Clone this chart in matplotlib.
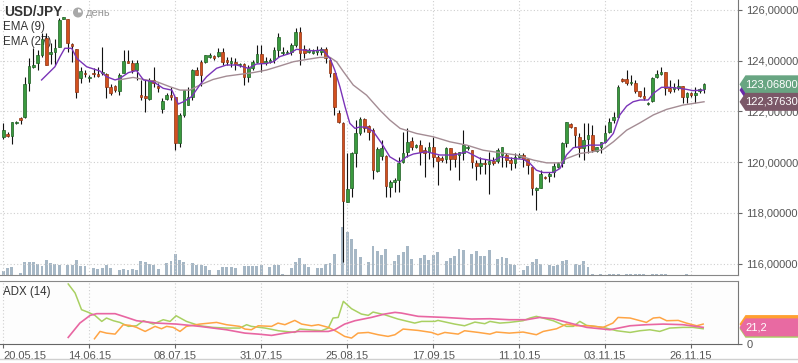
import matplotlib
matplotlib.use('Agg')
import matplotlib.pyplot as plt
from matplotlib.patches import Polygon, Circle, Wedge
from matplotlib.lines import Line2D
from matplotlib.ticker import FuncFormatter

plt.rcParams['font.family'] = ['Liberation Sans', 'DejaVu Sans']

# daily USD/JPY candles, 20.05.15 .. 01.12.15 (bar index 0..163)
opens = [121.00, 121.09, 121.04, 121.53, 121.75, 121.76, 123.13, 123.76, 123.89, 124.22,
         124.88, 124.26, 124.36, 124.55, 125.66, 125.63, 124.66, 124.45, 123.33, 123.53,
         123.30, 123.53, 123.47, 123.50, 123.47, 122.95, 123.00, 122.80, 123.53, 123.99,
         123.92, 123.63, 122.64, 122.62, 122.49, 123.24, 123.00, 122.08, 122.47, 122.64,
         122.58, 120.74, 121.86, 122.25, 122.58, 123.63, 123.96, 123.96, 124.16, 124.18,
         124.20, 124.33, 124.03, 123.92, 123.96, 123.82, 123.86, 123.37, 123.70, 123.96,
         124.26, 123.92, 123.96, 124.03, 124.42, 124.29, 124.29, 124.36, 124.62, 125.14,
         124.45, 124.36, 124.32, 124.36, 124.36, 124.45, 124.03, 123.50, 121.92, 121.55,
         118.43, 118.96, 120.34, 121.13, 121.70, 121.42, 121.26, 119.64, 120.24, 120.24,
         119.03, 119.22, 119.29, 120.01, 120.41, 120.83, 120.61, 120.67, 120.47, 120.41,
         120.61, 120.21, 120.18, 120.11, 120.54, 120.34, 120.28, 120.37, 120.54, 120.47,
         119.97, 119.86, 119.97, 119.92, 120.05, 120.05, 120.28, 120.28, 120.08, 119.97,
         120.21, 120.28, 120.11, 119.82, 118.89, 118.96, 119.42, 119.45, 119.62, 119.82,
         119.95, 120.74, 121.49, 121.39, 121.00, 120.54, 120.93, 121.07, 120.45, 120.61,
         120.80, 121.20, 121.66, 121.76, 123.28, 123.26, 123.11, 123.11, 122.82, 122.61,
         122.29, 122.42, 123.34, 123.47, 123.57, 122.91, 122.87, 122.92, 123.00, 122.58,
         122.71, 122.64, 122.80, 122.87]
highs = [121.53, 121.20, 121.59, 121.62, 121.79, 123.34, 124.09, 124.49, 124.42, 125.08,
         125.08, 124.68, 124.84, 125.67, 125.74, 125.66, 124.68, 124.47, 123.76, 123.63,
         123.43, 123.70, 123.76, 124.55, 123.50, 123.08, 123.04, 123.53, 124.42, 124.42,
         124.03, 124.03, 123.24, 123.24, 123.30, 123.76, 123.11, 122.51, 122.71, 122.97,
         122.58, 121.92, 122.84, 122.97, 123.66, 123.76, 124.03, 124.22, 124.29, 124.22,
         124.49, 124.49, 124.16, 124.16, 124.09, 123.89, 123.89, 123.83, 124.03, 124.62,
         124.62, 124.16, 124.09, 124.55, 125.08, 124.55, 124.42, 124.68, 125.28, 125.34,
         124.62, 124.50, 124.45, 124.59, 124.55, 124.55, 124.16, 123.53, 122.05, 121.59,
         120.34, 120.41, 121.66, 121.79, 121.72, 121.46, 121.33, 120.61, 120.87, 120.28,
         119.29, 119.36, 120.21, 121.20, 121.33, 121.00, 120.72, 120.87, 120.61, 120.80,
         121.00, 120.28, 120.24, 120.61, 120.54, 120.41, 120.41, 121.26, 120.67, 120.47,
         120.08, 120.21, 120.11, 120.41, 120.21, 120.54, 120.61, 120.34, 120.21, 120.34,
         120.34, 120.34, 120.14, 119.82, 119.03, 119.68, 119.45, 119.62, 119.95, 120.00,
         120.80, 121.59, 121.53, 121.39, 121.13, 121.53, 121.53, 121.46, 120.61, 120.80,
         121.46, 121.72, 121.99, 123.04, 123.30, 123.63, 123.43, 123.24, 122.82, 122.97,
         122.38, 123.37, 123.63, 123.76, 123.57, 123.24, 123.11, 123.28, 123.00, 122.78,
         122.78, 122.97, 122.91, 123.13]
lows = [120.93, 121.00, 120.70, 121.50, 121.50, 121.72, 122.82, 123.70, 123.63, 124.16,
        123.83, 123.87, 123.83, 124.55, 125.63, 124.36, 123.96, 122.51, 123.11, 123.37,
        123.17, 123.37, 123.37, 123.43, 122.51, 122.64, 122.78, 122.64, 123.50, 123.89,
        123.50, 123.24, 122.45, 121.99, 122.45, 122.97, 122.78, 121.92, 122.45, 122.45,
        120.47, 120.61, 121.76, 122.25, 122.45, 123.43, 123.00, 123.89, 124.09, 124.03,
        124.16, 123.83, 123.83, 123.76, 123.63, 123.76, 123.04, 123.17, 123.63, 123.89,
        123.57, 123.83, 123.92, 123.89, 124.16, 124.22, 124.26, 124.22, 124.55, 123.83,
        124.09, 124.30, 124.28, 124.22, 124.22, 123.89, 123.37, 121.86, 121.53, 116.07,
        118.43, 118.63, 119.82, 121.07, 121.20, 120.87, 119.32, 119.62, 120.08, 118.63,
        118.63, 118.83, 118.83, 119.95, 120.21, 120.47, 120.55, 119.88, 119.42, 120.14,
        119.82, 119.09, 120.01, 119.95, 119.68, 119.82, 119.29, 120.08, 120.47, 119.75,
        119.29, 119.55, 119.55, 118.76, 119.88, 119.95, 119.82, 119.82, 119.68, 119.75,
        120.18, 119.82, 119.55, 118.70, 118.11, 118.96, 119.32, 119.22, 119.42, 119.78,
        119.82, 120.61, 121.33, 120.61, 120.21, 120.08, 120.34, 120.41, 120.41, 120.34,
        120.74, 121.13, 121.53, 121.72, 123.17, 123.04, 123.04, 122.71, 122.58, 122.45,
        122.26, 122.38, 123.30, 123.43, 122.64, 122.74, 122.78, 122.84, 122.32, 122.32,
        122.58, 122.32, 122.71, 122.71]
closes = [121.26, 121.03, 121.57, 121.59, 121.66, 123.08, 123.79, 123.83, 124.22, 124.84,
          123.83, 124.36, 124.49, 125.61, 125.71, 124.71, 124.58, 122.78, 123.59, 123.46,
          123.37, 123.47, 123.41, 123.57, 122.97, 122.74, 122.84, 123.43, 123.99, 123.92,
          123.63, 123.92, 122.58, 122.51, 123.24, 123.13, 122.91, 122.42, 122.64, 122.58,
          120.74, 121.86, 122.84, 122.58, 123.63, 123.43, 123.43, 124.22, 124.22, 124.09,
          124.36, 123.96, 123.96, 124.00, 123.87, 123.87, 123.34, 123.70, 123.96, 124.26,
          123.89, 124.00, 124.03, 124.42, 124.95, 124.36, 124.36, 124.62, 125.14, 124.29,
          124.29, 124.42, 124.38, 124.42, 124.45, 124.09, 123.50, 122.16, 121.59, 118.47,
          118.93, 120.34, 121.13, 121.70, 121.33, 121.20, 119.68, 120.51, 120.54, 119.07,
          119.22, 119.29, 119.95, 120.34, 120.80, 120.61, 120.67, 120.41, 120.37, 120.61,
          120.21, 120.05, 120.08, 120.54, 120.11, 120.11, 120.41, 120.67, 120.61, 120.01,
          119.86, 119.97, 119.92, 120.05, 119.97, 120.47, 120.61, 120.08, 119.97, 120.21,
          120.28, 120.14, 119.88, 118.96, 118.96, 119.55, 119.36, 119.55, 119.86, 119.95,
          120.74, 121.57, 121.37, 121.07, 120.57, 120.89, 121.07, 120.47, 120.58, 120.80,
          121.13, 121.57, 121.76, 122.95, 123.21, 123.13, 123.17, 122.82, 122.61, 122.51,
          122.34, 123.30, 123.47, 123.57, 122.91, 122.82, 122.95, 123.00, 122.58, 122.71,
          122.64, 122.71, 122.87, 123.07]
volume = [13, 23, 26, 0, 8, 41, 41, 41, 35, 27, 47, 38, 35, 32, 0, 30, 32, 47, 27, 27,
          0, 23, 18, 21, 32, 21, 0, 17, 20, 17, 20, 17, 44, 41, 35, 30, 20, 0, 38, 44,
          65, 47, 41, 0, 38, 32, 32, 27, 17, 0, 17, 26, 26, 26, 23, 0, 29, 27, 27, 29,
          32, 0, 26, 30, 32, 3, 0, 23, 41, 53, 35, 26, 0, 23, 23, 35, 38, 65, 0, 146,
          131, 110, 80, 54, 0, 41, 89, 74, 62, 80, 0, 44, 62, 71, 89, 50, 0, 53, 62, 47,
          62, 71, 0, 44, 53, 59, 80, 77, 0, 65, 74, 59, 59, 77, 2, 50, 56, 53, 35, 32,
          2, 17, 29, 41, 50, 35, 0, 32, 29, 32, 44, 47, 0, 35, 32, 44, 26, 5, 0, 5,
          2, 5, 5, 5, 0, 5, 5, 5, 5, 5, 0, 5, 5, 5, 5, 2, 0, 2, 2, 5,
          2, 2, 0, 0]

date_idx = [0, 20, 40, 60, 80, 100, 120, 140, 160]
date_labels = ['20.05.15', '14.06.15', '08.07.15', '31.07.15', '25.08.15',
               '17.09.15', '11.10.15', '03.11.15', '26.11.15']
price_ticks = [116, 118, 120, 122, 124, 126]

# indicator lines (bar index, value)
ema9_x = [8.9, 12.0, 13.2, 14.3, 15.9, 17.1, 19.4, 22.5, 24.0, 26.0, 27.1, 29.1, 31.0, 32.6, 34.9,
          37.2, 39.2, 40.7, 41.9, 43.8, 45.7, 47.3, 49.6, 51.9, 54.3, 55.8, 57.0, 58.9, 61.2, 62.8,
          64.3, 66.7, 68.2, 69.8, 72.1, 74.4, 76.0, 77.1, 78.3, 79.5, 80.6, 81.8, 83.0, 84.5, 86.1,
          88.0, 89.9, 92.1, 93.8, 95.4, 98.4, 101.5, 104.8, 107.8, 110.9, 114.0, 115.6, 118.7, 121.0,
          122.5, 124.0, 125.6, 127.9, 129.5, 131.0, 132.6, 134.5, 136.4, 138.8, 140.3, 141.9, 143.4,
          145.0, 146.5, 148.1, 150.0, 151.2, 153.1, 155.0, 157.4, 158.9, 160.4, 163.0]
ema9_y = [123.24, 123.76, 124.16, 124.49, 124.49, 124.09, 123.76, 123.59, 123.37, 123.24, 123.30,
          123.53, 123.61, 123.24, 123.17, 122.91, 122.84, 122.29, 122.38, 122.58, 123.04, 123.37,
          123.70, 123.83, 123.83, 123.76, 123.70, 123.87, 123.89, 123.96, 124.16, 124.29, 124.45,
          124.42, 124.39, 124.42, 124.09, 123.63, 122.97, 122.18, 121.53, 121.33, 121.39, 121.37,
          121.20, 120.74, 120.21, 119.99, 120.21, 120.32, 120.41, 120.28, 120.28, 120.41, 120.14,
          120.05, 120.21, 120.14, 120.11, 119.95, 119.68, 119.59, 119.59, 119.75, 120.28, 120.57,
          120.61, 120.67, 120.67, 120.80, 121.13, 121.86, 122.21, 122.38, 122.45, 122.45, 122.71,
          122.95, 122.95, 122.91, 122.87, 122.82, 122.84]
ema27_x = [26.8, 30.2, 32.6, 35.7, 38.8, 41.1, 43.4, 45.7, 48.8, 51.9, 55.0, 58.1, 61.2, 64.3, 67.5,
           70.6, 73.6, 76.0, 77.5, 79.1, 81.4, 84.5, 87.6, 89.9, 92.3, 96.1, 100.0, 103.9, 107.8,
           111.6, 115.5, 119.4, 123.3, 126.4, 129.5, 131.0, 134.1, 137.2, 139.5, 141.9, 145.0,
           148.1, 151.2, 154.3, 158.1, 163.0]
ema27_y = [123.24, 123.34, 123.26, 123.17, 122.97, 122.84, 122.84, 123.04, 123.26, 123.39, 123.46,
           123.53, 123.63, 123.79, 123.96, 124.05, 124.13, 124.13, 123.96, 123.57, 123.04, 122.64,
           122.05, 121.66, 121.33, 121.13, 121.00, 120.80, 120.67, 120.47, 120.37, 120.28, 120.08,
           119.97, 119.97, 120.14, 120.34, 120.41, 120.50, 120.80, 121.26, 121.55, 121.86, 122.08,
           122.25, 122.38]

adx_x = [15.1, 17.8, 20.2, 21.7, 26.0, 28.7, 31.0, 35.7, 40.3, 45.7, 51.9, 56.2, 59.3, 62.4, 65.5,
         68.6, 75.6, 77.1, 79.4, 81.8, 85.6, 88.7, 91.1, 92.6, 96.5, 102.7, 108.9, 113.2, 117.7,
         121.7, 124.8, 127.9, 131.8, 135.7, 139.5, 141.1, 145.8, 149.6, 153.5, 158.1, 162.8]
adx_y = [8.1, 26.8, 36.9, 39.1, 39.1, 34.2, 29.9, 26.8, 25.5, 22.5, 18.1, 13.7, 12.4, 10.7, 13.7,
         15.9, 15.9, 18.1, 25.5, 29.9, 34.2, 38.6, 40.8, 39.9, 35.6, 34.2, 32.1, 32.5, 31.2,
         31.2, 34.2, 32.5, 26.8, 21.2, 19.0, 18.1, 23.3, 24.7, 25.5, 24.7, 21.2]
pdi_x = [15.1, 16.7, 18.2, 19.8, 21.3, 22.9, 24.0, 25.6, 27.1, 29.1, 31.0, 32.6, 34.9, 37.2, 38.8,
         40.2, 42.6, 45.7, 48.8, 51.9, 55.0, 56.6, 57.7, 60.9, 64.0, 67.8, 69.0, 74.0, 75.6, 76.7,
         77.9, 79.1, 81.0, 83.3, 84.9, 86.0, 88.7, 91.8, 95.7, 97.3, 100.4, 101.1, 105.0, 107.3,
         109.7, 112.0, 113.2, 115.5, 117.7, 120.9, 122.5, 124.0, 127.9, 131.0, 132.6, 134.1, 135.7,
         139.5, 142.7, 145.8, 148.1, 150.4, 152.7, 155.0, 158.1, 160.4, 162.8]
pdi_y = [77.9, 66.1, 44.3, 40.8, 36.9, 29.0, 33.4, 29.9, 27.7, 22.5, 23.3, 29.9, 25.5, 31.2, 29.0,
         36.4, 29.0, 23.3, 21.2, 20.3, 20.3, 24.7, 22.5, 20.3, 16.8, 14.6, 19.0, 16.8, 20.3, 33.4,
         34.2, 55.2, 45.6, 38.6, 36.9, 41.2, 37.7, 32.1, 26.8, 29.0, 29.0, 30.3, 25.5, 23.3,
         28.1, 26.0, 29.0, 26.8, 27.7, 29.9, 33.4, 35.6, 29.9, 22.5, 22.5, 29.0, 23.8,
         21.2, 16.8, 14.6, 16.8, 18.1, 15.9, 20.3, 21.2, 21.2, 19.4]
mdi_x = [21.2, 22.5, 24.0, 26.0, 27.9, 29.5, 31.0, 33.0, 35.3, 36.8, 38.0, 39.5, 41.1, 42.6, 45.7,
         49.6, 51.9, 55.0, 56.2, 57.7, 59.3, 62.4, 63.9, 65.5, 67.8, 69.4, 71.7, 73.3, 75.6, 77.5,
         79.4, 81.0, 82.5, 84.9, 87.2, 89.5, 91.1, 93.0, 96.5, 99.6, 101.1, 102.7, 105.8, 107.3,
         110.5, 113.2, 114.7, 117.7, 120.9, 124.0, 125.6, 128.7, 131.0, 133.3, 136.4, 139.5, 141.8,
         143.0, 145.8, 149.6, 151.2, 152.7, 154.3, 157.0, 158.9, 161.3, 162.8]
mdi_y = [6.3, 15.9, 13.7, 12.4, 24.7, 23.8, 21.2, 15.9, 22.5, 19.4, 22.5, 21.2, 15.9, 22.5, 25.5,
         27.7, 24.7, 22.5, 19.0, 18.1, 23.3, 22.5, 26.8, 24.7, 30.3, 25.5, 23.3, 24.7, 21.2, 15.9,
         9.4, 7.2, 13.7, 14.6, 11.6, 9.4, 11.6, 19.0, 17.2, 14.6, 11.6, 14.6, 12.4, 16.8,
         14.6, 12.4, 15.1, 13.7, 15.1, 11.6, 15.9, 19.4, 25.5, 23.3, 23.3, 21.2, 26.8,
         34.2, 33.4, 27.7, 33.4, 34.2, 29.9, 30.3, 26.8, 23.3, 25.5]

last_price = 123.068
ema9_last, ema27_last = 122.84, 122.3763
adx_last, pdi_last, mdi_last = 21.2, 19.4, 25.5

W, H = 798, 363
fig = plt.figure(figsize=(W / 100, H / 100), dpi=100)
fig.patch.set_facecolor('white')

main_rect = [0, 1 - 275.3 / H, 738 / W, 275.3 / H]
xlim = (-0.77, 170.9)

# volume underneath
axv = fig.add_axes(main_rect)
axv.set_facecolor('#fdfdfd')
x = list(range(len(closes)))
axv.bar(x, volume, width=0.68, color='#a6b7c5', linewidth=0)
axv.set_xlim(*xlim)
axv.set_ylim(0, 825)
axv.axis('off')

ax = fig.add_axes(main_rect)
ax.set_facecolor('none')
ax.set_xlim(*xlim)
ax.set_ylim(115.535, 126.394)
ax.set_axisbelow(True)
ax.grid(True, color='#cfcfcf', linestyle=(0, (1, 2)), linewidth=0.8)
ax.set_xticks(date_idx)
ax.set_yticks(price_ticks)
ax.tick_params(axis='x', length=0, labelbottom=False)
ax.yaxis.tick_right()
ax.tick_params(axis='y', length=3, color='#666', labelsize=8, labelcolor='#555', pad=3)
ax.yaxis.set_major_formatter(FuncFormatter(lambda v, p: f'{v:.5f}'.replace('.', ',')))
for s in ['left', 'top']:
    ax.spines[s].set_visible(False)
ax.spines['right'].set_color('#777')
ax.spines['bottom'].set_color('#888')

ups = [c >= o for o, c in zip(opens, closes)]
ax.vlines(x, lows, highs, color='#111', linewidth=0.8, zorder=2)
bottoms = [min(o, c) for o, c in zip(opens, closes)]
heights = [max(abs(c - o), 0.04) for o, c in zip(opens, closes)]
ax.bar(x, heights, bottom=bottoms, width=0.62,
       color=['#3a9a3e' if u else '#d2501e' for u in ups],
       edgecolor=['#1d5f22' if u else '#8e3212' for u in ups], linewidth=0.5, zorder=3)
ax.plot(ema27_x, ema27_y, color='#a48c94', linewidth=1.0, zorder=4)
ax.plot(ema9_x, ema9_y, color='#7a34b8', linewidth=1.0, zorder=5)

# header texts (behind the candles)
ax.text(4 / W, 1 - 12 / H, 'USD/JPY', transform=fig.transFigure, fontsize=9.8,
        fontweight='bold', color='#333', va='center', zorder=1)
ax.text(86 / W, 1 - 12.5 / H, 'день', transform=fig.transFigure, fontsize=8,
        color='#999', va='center', zorder=1)
ax.text(3 / W, 1 - 26.7 / H, 'EMA (9)', transform=fig.transFigure, fontsize=8.3,
        color='#333', va='center', zorder=1)
ax.text(3 / W, 1 - 41.7 / H, 'EMA (27)', transform=fig.transFigure, fontsize=8.3,
        color='#333', va='center', zorder=1)
fig.patches.append(Circle((78 / 100, (H - 12.5) / 100), 0.05, transform=fig.dpi_scale_trans,
                          fc='#a8a8a8', ec='none'))
fig.patches.append(Wedge((78 / 100, (H - 12.5) / 100), 0.035, 0, 90, transform=fig.dpi_scale_trans,
                         fc='white', ec='none'))

# ADX panel
adx_ax = fig.add_axes([0, 1 - 343.6 / H, 738 / W, (343.6 - 281.3) / H])
adx_ax.set_facecolor('#fdfdfd')
adx_ax.set_xlim(*xlim)
adx_ax.set_ylim(0, 81.4)
adx_ax.grid(True, axis='x', color='#cfcfcf', linestyle=(0, (1, 2)), linewidth=0.8)
adx_ax.set_axisbelow(True)
adx_ax.plot(pdi_x, pdi_y, color='#a9d062', linewidth=1.1)
adx_ax.plot(mdi_x, mdi_y, color='#ffa444', linewidth=1.1)
adx_ax.plot(adx_x, adx_y, color='#e866a2', linewidth=1.2)
adx_ax.set_xticks(date_idx)
adx_ax.set_xticklabels(date_labels)
adx_ax.get_xticklabels()[0].set_horizontalalignment('left')
adx_ax.tick_params(axis='x', length=3, color='#666', labelsize=8, labelcolor='#555', pad=2)
adx_ax.yaxis.tick_right()
adx_ax.set_yticks([0])
adx_ax.set_yticklabels(['0'])
adx_ax.tick_params(axis='y', length=3, color='#666', labelsize=8, labelcolor='#555', pad=3)
adx_ax.spines['left'].set_visible(False)
adx_ax.spines['top'].set_color('#888')
adx_ax.spines['right'].set_color('#777')
adx_ax.spines['bottom'].set_color('#666')
adx_ax.text(3 / W, 1 - 292.5 / H, 'ADX (14)', transform=fig.transFigure, fontsize=8.3,
            color='#333', va='center')

fig.add_artist(Line2D([0, 1], [1 - 358.5 / H, 1 - 358.5 / H], transform=fig.transFigure,
                      color='#d0d0d0', linewidth=1))


def tag(axes, value, text, color, z):
    yf = axes.transData.transform((0, value))[1] / fig.bbox.height
    h = 9 / H
    x0, x1 = 739.5 / W, 745.5 / W
    pts = [(x0, yf), (x1, yf + h), (1.0, yf + h), (1.0, yf - h), (x1, yf - h)]
    fig.patches.append(Polygon(pts, closed=True, transform=fig.transFigure,
                               fc=color, ec='none', zorder=z))
    if text:
        fig.text(745.5 / W, yf, text, color='white', fontsize=8, va='center', ha='left', zorder=z + 0.5)


tag(ax, ema9_last, '', '#6a2aa8', 5)
tag(ax, last_price, f'{last_price:.5f}'.replace('.', ','), '#68a582', 6)
tag(ax, ema27_last, f'{ema27_last:.5f}'.replace('.', ','), '#7b5868', 7)
tag(adx_ax, mdi_last, '', '#ffa030', 5)
tag(adx_ax, pdi_last, '', '#a9d062', 6)
tag(adx_ax, adx_last, f'{adx_last:.1f}'.replace('.', ','), '#e86aa2', 7)

fig.savefig('out.png', dpi=100)
